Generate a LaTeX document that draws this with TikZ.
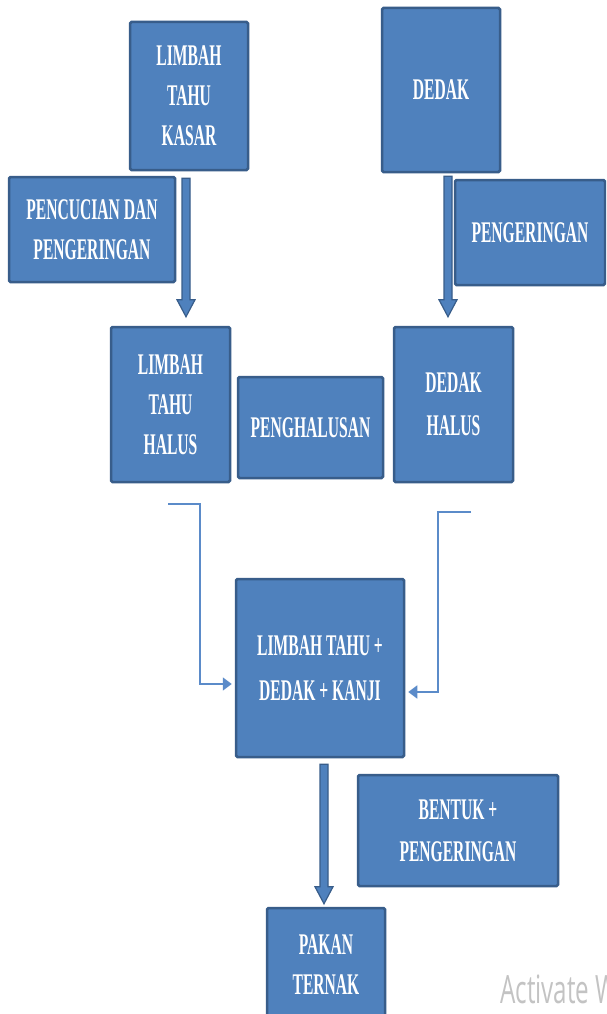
\documentclass[tikz,border=0pt]{standalone}
\usepackage{fontspec}
\usetikzlibrary{calc,arrows.meta}
\newfontfamily\boxfont{Liberation Serif}[FakeStretch=0.52]
\newfontfamily\wmfont{Open Sans}[FakeStretch=0.62]
\definecolor{boxfill}{HTML}{4F81BD}
\definecolor{boxline}{HTML}{385D8A}
\definecolor{thinline}{HTML}{5B8BC9}
\definecolor{wmgray}{RGB}{195,195,195}
\tikzset{
  stepbox/.style={rectangle, fill=boxfill, draw=boxline, line width=2.5pt,
    rounded corners=1.5pt, text=white, align=center, inner sep=0pt,
    font=\boxfont\bfseries\fontsize{30}{40}\selectfont},
  fatarrow/.style={fill=boxfill, draw=boxline, line width=1.2pt, line join=miter},
  thinarrow/.style={draw=thinline, line width=1.8pt,
    -{Triangle[length=9pt,width=13pt]}},
}
\newcommand\fatarrowdraw[2]{%
  \filldraw[fatarrow] ($(#1)+(-4,0)$) -- ($(#2)+(-4,-17)$) -- ($(#2)+(-9,-17)$)
    -- (#2) -- ($(#2)+(9,-17)$) -- ($(#2)+(4,-17)$) -- ($(#1)+(4,0)$) -- cycle;}
\begin{document}
\begin{tikzpicture}[x=1pt,y=-1pt]
\useasboundingbox (0,0) rectangle (606,1014);
\clip (0,0) rectangle (606,1014);
\fill[white] (0,0) rectangle (606,1014);

\node[stepbox, minimum width=118pt, minimum height=148pt] (b1) at (189,96) {LIMBAH\\TAHU\\KASAR};
\node[stepbox, minimum width=118pt, minimum height=164pt] (b2) at (441,90) {DEDAK};
\node[stepbox, minimum width=166pt, minimum height=105pt] (b3) at (92,229.5) {PENCUCIAN DAN\\PENGERINGAN};
\node[stepbox, minimum width=150pt, minimum height=105pt] (b4) at (530,232.5) {PENGERINGAN};
\node[stepbox, minimum width=119pt, minimum height=155pt] (b5) at (170.5,404.5) {LIMBAH\\TAHU\\HALUS};
\node[stepbox, minimum width=145pt, minimum height=101pt] (b6) at (310.5,427.5) {PENGHALUSAN};
\node[stepbox, minimum width=119pt, minimum height=155pt] (b7) at (453.5,404.5) {DEDAK\\[3pt]HALUS};
\node[stepbox, minimum width=168pt, minimum height=178pt] (b8) at (320,668) {LIMBAH TAHU +\\[5pt]DEDAK + KANJI};
\node[stepbox, minimum width=200pt, minimum height=111pt] (b9) at (458,830.5) {BENTUK +\\[2pt]PENGERINGAN};
\node[stepbox, minimum width=118pt, minimum height=114pt] (b10) at (326,965) {PAKAN\\TERNAK};

% thick arrows
\coordinate (a1s) at ($(b1.south)+(-3,7)$);
\coordinate (a1e) at ($(a1s |- b5.north)+(0,-9)$);
\fatarrowdraw{a1s}{a1e}
\coordinate (a2s) at ($(b2.south)+(7,3)$);
\coordinate (a2e) at ($(a2s |- b7.north)+(0,-9)$);
\fatarrowdraw{a2s}{a2e}
\coordinate (a3s) at ($(b8.south)+(4,6)$);
\coordinate (a3e) at ($(a3s |- b10.north)+(0,-3)$);
\fatarrowdraw{a3s}{a3e}

% thin elbow arrows
\coordinate (l1) at ($(b5.south)+(-2.5,21)$);
\draw[thinarrow] (l1) -- ++(32,0) |- ($(b8.west)+(-3,16)$);
\coordinate (r1) at ($(b7.south)+(17.5,29)$);
\draw[thinarrow] (r1) -- ++(-33,0) |- ($(b8.east)+(3,24)$);

% watermark
\node[anchor=base west, inner sep=0pt, text=wmgray, font=\wmfont\fontsize{39}{39}\selectfont] (wm) at (500,1003) {Activate W};
\end{tikzpicture}
\end{document}
